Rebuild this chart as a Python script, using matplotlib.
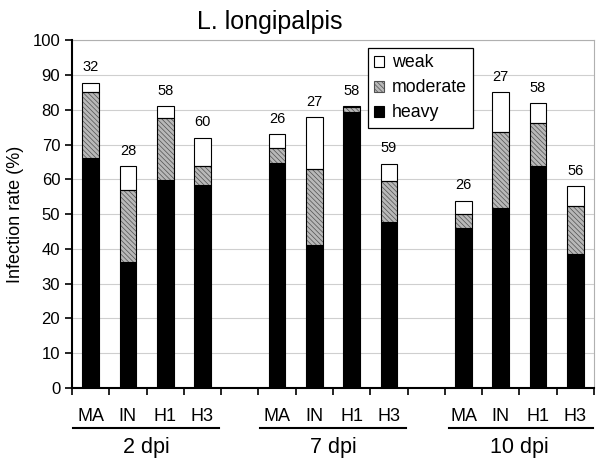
import matplotlib
matplotlib.use("Agg")
import matplotlib.pyplot as plt
import matplotlib.transforms as mtransforms
from matplotlib.patches import Patch
import numpy as np

plt.rcParams['font.family'] = ['Liberation Sans', 'DejaVu Sans']
plt.rcParams['hatch.linewidth'] = 0.5

groups = ["2 dpi", "7 dpi", "10 dpi"]
strains = ["MA", "IN", "H1", "H3"]
heavy = [66.1, 36.1, 59.8, 58.4, 64.8, 41.0, 79.4, 47.6, 45.9, 51.9, 63.9, 38.5]
moderate = [18.9, 20.8, 17.7, 5.4, 4.1, 21.9, 1.4, 11.9, 4.1, 21.8, 12.4, 13.8]
weak = [2.8, 6.9, 3.5, 8.2, 4.0, 14.9, 0.2, 5.0, 3.9, 11.3, 5.5, 5.8]
n_labels = ["32", "28", "58", "60", "26", "27", "58", "59", "26", "27", "58", "56"]
yticks = [0, 10, 20, 30, 40, 50, 60, 70, 80, 90, 100]

HATCH = '\\' * 7
MODFACE = '#b8b8b8'
MODHATCH = '#505050'

fig = plt.figure(figsize=(6.0, 4.67), dpi=100)
ax = fig.add_axes([0.12, 0.169, 0.87, 0.745])

pos = []
for g in range(len(groups)):
    for s in range(len(strains)):
        pos.append(g * 5 + s + 0.5)
pos = np.array(pos)
heavy = np.array(heavy)
moderate = np.array(moderate)
weak = np.array(weak)
w = 0.45

ax.bar(pos, heavy, w, color='black', edgecolor='black', linewidth=0.8, zorder=3)
ax.bar(pos, moderate, w, bottom=heavy, facecolor=MODFACE, edgecolor=MODHATCH,
       hatch=HATCH, linewidth=0, zorder=3)
ax.bar(pos, moderate, w, bottom=heavy, fill=False, edgecolor='black', linewidth=0.8, zorder=4)
ax.bar(pos, weak, w, bottom=heavy + moderate, facecolor='white', edgecolor='black',
       linewidth=0.8, zorder=3)

tops = heavy + moderate + weak
for x, t, lab in zip(pos, tops, n_labels):
    ax.text(x, t + 2.4, lab, ha='center', va='bottom', fontsize=10.5)

ax.set_xlim(0, 14)
ax.set_ylim(0, 100)
ax.set_yticks(yticks)
ax.tick_params(axis='y', labelsize=12, length=5, width=1.2, direction='out')
ax.set_xticks(np.arange(0, 15))
ax.set_xticklabels([])
ax.tick_params(axis='x', length=5, width=1.2, direction='out')
ax.yaxis.grid(True, color='#cfcfcf', linewidth=0.8, zorder=0)
ax.set_axisbelow(True)
for sp in ['top', 'right']:
    ax.spines[sp].set_color('#b0b0b0')
    ax.spines[sp].set_linewidth(0.8)
for sp in ['left', 'bottom']:
    ax.spines[sp].set_linewidth(1.5)
    ax.spines[sp].set_zorder(5)

ax.set_ylabel("Infection rate (%)", fontsize=13, labelpad=6)

trans = mtransforms.blended_transform_factory(ax.transData, ax.transAxes)
spans = [(0.02, 3.95), (5.05, 8.95), (10.1, 13.98)]
for g, name in enumerate(groups):
    for s, st in enumerate(strains):
        ax.text(g * 5 + s + 0.5, -0.082, st, transform=trans, ha='center', va='center',
                fontsize=13)
    a, b = spans[g]
    ax.plot([a, b], [-0.115, -0.115], transform=trans, color='black', lw=1.5, clip_on=False)
    ax.text(g * 5 + 2, -0.172, name, transform=trans, ha='center', va='center', fontsize=15.5)

fig.text(0.45, 0.953, "L. longipalpis", ha='center', va='center', fontsize=18)

handles = [Patch(facecolor='white', edgecolor='black', linewidth=0.8),
           Patch(facecolor=MODFACE, edgecolor=MODHATCH, hatch=HATCH, linewidth=0.8),
           Patch(facecolor='black', edgecolor='black', linewidth=0.8)]
leg = ax.legend(handles, ["weak", "moderate", "heavy"], loc='upper left',
                bbox_to_anchor=(0.567, 0.977), fontsize=12.8, handlelength=0.56,
                handleheight=0.56, handletextpad=0.45, labelspacing=0.45,
                borderpad=0.35, borderaxespad=0.0, fancybox=False, framealpha=1,
                edgecolor='black')
leg.get_frame().set_linewidth(0.9)
leg.set_zorder(6)

fig.savefig("out.png", dpi=100)
